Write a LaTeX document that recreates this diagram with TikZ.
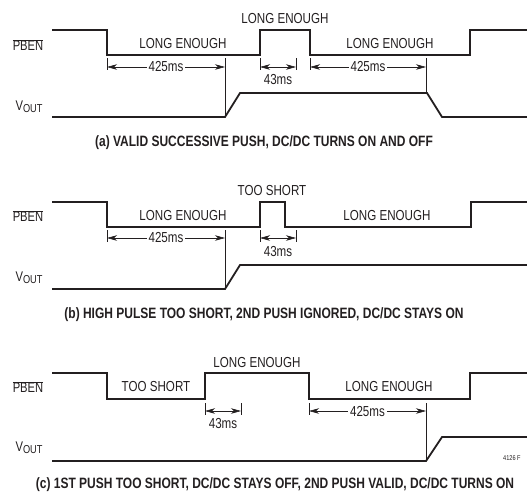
\documentclass[tikz,border=0pt]{standalone}
\usepackage{fontspec}
\setmainfont{Liberation Sans}[FakeStretch=0.80]
\usetikzlibrary{arrows.meta}

\definecolor{ink}{HTML}{231F20}
\newcommand{\pben}{$\overline{\mbox{PBEN}}$}
\newcommand{\vout}{V\raisebox{-0.25ex}{\fontsize{11.5}{12}\selectfont OUT}}

\begin{document}
\begin{tikzpicture}[x=1pt,y=-1pt, >={Stealth[length=10pt,width=5.5pt,inset=3pt]}, color=ink,
    wave/.style={line width=1.8pt, line join=miter},
    dim/.style={line width=0.6pt},
    lbl/.style={font=\fontsize{14.5}{15}\selectfont, inner sep=2pt},
    sig/.style={font=\fontsize{14}{15}\selectfont, inner sep=0pt},
    capline/.style={font=\bfseries\fontsize{15}{16}\selectfont, inner sep=0pt}]
  \useasboundingbox (0,0) rectangle (527,493);

  % (a) valid successive push
  \node[sig] (pbenA) at (28,45) {\pben};
  \node[sig] (voutA) at (29,107) {\vout};
  \draw[wave] (52,30) -- (107,30) -- (107,55) -- (260,55) -- (260,30)
    -- (310,30) -- (310,55) -- (470,55) -- (470,30) -- (527,30);
  \draw[wave] (52,117) -- (225,117) -- (240,93) -- (427,93) -- (442,117) -- (527,117);
  \node[lbl] (lowA1) at (183,44) {LONG ENOUGH};
  \node[lbl] (highA) at (285,19) {LONG ENOUGH};
  \node[lbl] (lowA2) at (390,44) {LONG ENOUGH};
  \draw[dim] (107,58) -- (107,70) (225,58) -- (225,117);
  \draw[dim] (260,58) -- (260,70) (296,58) -- (296,70);
  \draw[dim] (310,58) -- (310,70) (426,58) -- (426,93);
  \draw[dim,<->] (107,67) -- node[lbl,fill=white] (tA1) {425ms} (225,67);
  \draw[dim,<->] (260,67) -- (296,67);
  \node[lbl] (tA2) at (278,80) {43ms};
  \draw[dim,<->] (310,67) -- node[lbl,fill=white] (tA3) {425ms} (426,67);
  \node[capline] (capA) at (264,143) {(a) VALID SUCCESSIVE PUSH, DC/DC TURNS ON AND OFF};

  % (b) high pulse too short
  \node[sig] (pbenB) at (28,216) {\pben};
  \node[sig] (voutB) at (29,278) {\vout};
  \draw[wave] (52,202) -- (107,202) -- (107,227) -- (260,227) -- (260,202)
    -- (285,202) -- (285,227) -- (471,227) -- (471,202) -- (527,202);
  \draw[wave] (52,289) -- (225,289) -- (240,265) -- (527,265);
  \node[lbl] (lowB1) at (183,216) {LONG ENOUGH};
  \node[lbl] (highB) at (272,191) {TOO SHORT};
  \node[lbl] (lowB2) at (387,216) {LONG ENOUGH};
  \draw[dim] (107,230) -- (107,242) (225,230) -- (225,289);
  \draw[dim] (260,230) -- (260,242) (296,230) -- (296,242);
  \draw[dim,<->] (107,238) -- node[lbl,fill=white] (tB1) {425ms} (225,238);
  \draw[dim,<->] (260,238) -- (296,238);
  \node[lbl] (tB2) at (278,252) {43ms};
  \node[capline] (capB) at (264,315) {(b) HIGH PULSE TOO SHORT, 2ND PUSH IGNORED, DC/DC STAYS ON};

  % (c) first push too short
  \node[sig] (pbenC) at (28,387) {\pben};
  \node[sig] (voutC) at (29,448) {\vout};
  \draw[wave] (52,373) -- (107,373) -- (107,399) -- (205,399) -- (205,373)
    -- (309,373) -- (309,399) -- (470,399) -- (470,373) -- (527,373);
  \draw[wave] (52,461) -- (426,461) -- (442,437) -- (527,437);
  \node[lbl] (lowC1) at (156,387) {TOO SHORT};
  \node[lbl] (highC) at (257,363) {LONG ENOUGH};
  \node[lbl] (lowC2) at (389,387) {LONG ENOUGH};
  \draw[dim] (205,403) -- (205,415) (241,403) -- (241,415);
  \draw[dim] (309,403) -- (309,415) (426,403) -- (426,461);
  \draw[dim,<->] (205,411) -- (241,411);
  \node[lbl] (tC1) at (223,424) {43ms};
  \draw[dim,<->] (309,411) -- node[lbl,fill=white] (tC2) {425ms} (426,411);
  \node[font=\fontsize{7}{8}\selectfont, anchor=west, inner sep=0pt] (figC) at (503,458) {4126 F};
  \node[capline] (capC) at (275,485) {(c) 1ST PUSH TOO SHORT, DC/DC STAYS OFF, 2ND PUSH VALID, DC/DC TURNS ON};
\end{tikzpicture}
\end{document}
